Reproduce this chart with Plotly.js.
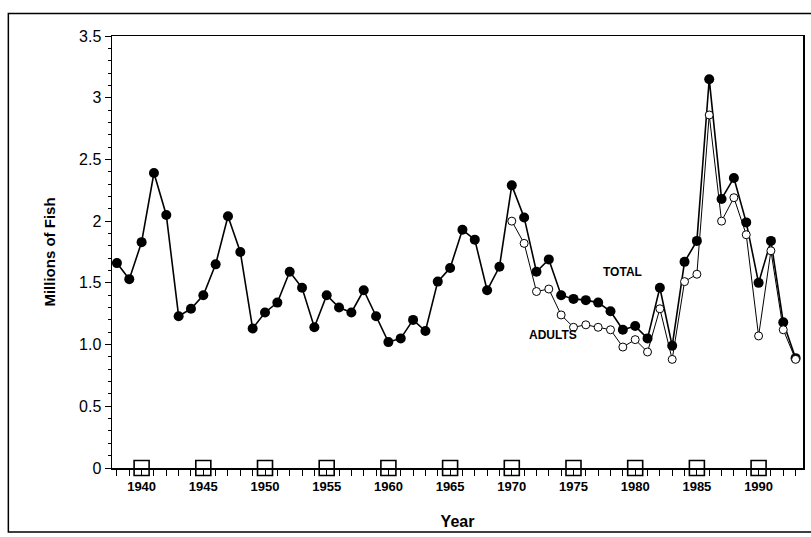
<!DOCTYPE html>
<html>
<head>
<meta charset="utf-8">
<script src="https://cdn.plot.ly/plotly-3.0.1.min.js"></script>
<style>html,body{margin:0;padding:0;background:#fff;}#chart{width:811px;height:537px;}</style>
</head>
<body>
<div id="chart"></div>
<script>
// Total run (millions of fish), 1938-1993
var totalYears = [1938,1939,1940,1941,1942,1943,1944,1945,1946,1947,1948,1949,1950,1951,1952,1953,1954,1955,1956,1957,1958,1959,1960,1961,1962,1963,1964,1965,1966,1967,1968,1969,1970,1971,1972,1973,1974,1975,1976,1977,1978,1979,1980,1981,1982,1983,1984,1985,1986,1987,1988,1989,1990,1991,1992,1993];
var totalValues = [1.66,1.53,1.83,2.39,2.05,1.23,1.29,1.40,1.65,2.04,1.75,1.13,1.26,1.34,1.59,1.46,1.14,1.40,1.30,1.26,1.44,1.23,1.02,1.05,1.20,1.11,1.51,1.62,1.93,1.85,1.44,1.63,2.29,2.03,1.59,1.69,1.40,1.37,1.36,1.34,1.27,1.12,1.15,1.05,1.46,0.99,1.67,1.84,3.15,2.18,2.35,1.99,1.50,1.84,1.18,0.89];
// Adults, 1970-1993
var adultYears = [1970,1971,1972,1973,1974,1975,1976,1977,1978,1979,1980,1981,1982,1983,1984,1985,1986,1987,1988,1989,1990,1991,1992,1993];
var adultValues = [2.00,1.82,1.43,1.45,1.24,1.14,1.16,1.14,1.12,0.98,1.04,0.94,1.29,0.88,1.51,1.57,2.86,2.00,2.19,1.89,1.07,1.76,1.12,0.88];
// Zero-line series with open squares
var squareYears = [1940,1945,1950,1955,1960,1965,1970,1975,1980,1985,1990];
var squareValues = [0,0,0,0,0,0,0,0,0,0,0];
// Axis ticks
var xTickVals = [1940,1945,1950,1955,1960,1965,1970,1975,1980,1985,1990];
var xTickText = ['1940','1945','1950','1955','1960','1965','1970','1975','1980','1985','1990'];
var yTickVals = [0,0.5,1,1.5,2,2.5,3,3.5];
var yTickText = ['0','0.5','1.0','1.5','2','2.5','3','3.5'];

var traces = [
  {x: squareYears, y: squareValues, type:'scatter', mode:'markers', cliponaxis:false,
   marker:{symbol:'square', size:15, color:'#fff', line:{width:1.6, color:'#000'}},
   hoverinfo:'skip', showlegend:false},
  {x: totalYears, y: totalValues, type:'scatter', mode:'lines+markers', cliponaxis:false,
   line:{color:'#000', width:1.6}, marker:{symbol:'circle', size:10, color:'#000'}, showlegend:false},
  {x: adultYears, y: adultValues, type:'scatter', mode:'lines+markers', cliponaxis:false,
   line:{color:'#000', width:1}, marker:{symbol:'circle', size:8, color:'#fff', line:{color:'#000', width:1}}, showlegend:false}
];

var layout = {
  width: 811, height: 537,
  margin: {l:112, r:8, t:36, b:69},
  paper_bgcolor:'#fff', plot_bgcolor:'#fff',
  font: {family:'Liberation Sans, Arial, sans-serif', color:'#000'},
  showlegend:false,
  xaxis: {
    range:[1937.6, 1993.6], showgrid:false, zeroline:false,
    showline:true, linecolor:'#000', linewidth:1.5, mirror:true,
    tickmode:'array', tickvals:xTickVals, ticktext:xTickText,
    ticks:'outside', ticklen:6, tickwidth:1, tickcolor:'#000',
    minor:{dtick:1, tick0:1938, ticks:'outside', ticklen:6, tickwidth:1, tickcolor:'#000'},
    tickfont:{size:13, weight:'bold', family:'Liberation Sans, Arial, sans-serif'},
    title:{text:'Year', font:{size:16, weight:'bold'}, standoff:22}
  },
  yaxis: {
    range:[0, 3.5], showgrid:false, zeroline:false,
    showline:true, linecolor:'#000', linewidth:1.5, mirror:true,
    tickmode:'array', tickvals:yTickVals, ticktext:yTickText,
    ticks:'outside', ticklen:6, tickwidth:1, tickcolor:'#000',
    minor:{dtick:0.1, tick0:0, ticks:'outside', ticklen:3, tickwidth:1, tickcolor:'#000'},
    tickfont:{size:16},
    title:{text:'Millions of Fish', font:{size:15, weight:'bold'}, standoff:20}
  },
  annotations: [
    {x:1979.0, y:1.59, xref:'x', yref:'y', text:'TOTAL', showarrow:false, font:{size:12, weight:'bold'}},
    {x:1973.3, y:1.08, xref:'x', yref:'y', text:'ADULTS', showarrow:false, font:{size:12, weight:'bold'}}
  ],
  shapes: [
    {type:'rect', xref:'paper', yref:'paper', x0:-0.150, x1:1.03, y0:-0.148, y1:1.052,
     line:{color:'#000', width:1.5}, fillcolor:'rgba(0,0,0,0)', layer:'below'}
  ]
};

Plotly.newPlot('chart', traces, layout, {displayModeBar:false, staticPlot:true});
</script>
</body>
</html>
